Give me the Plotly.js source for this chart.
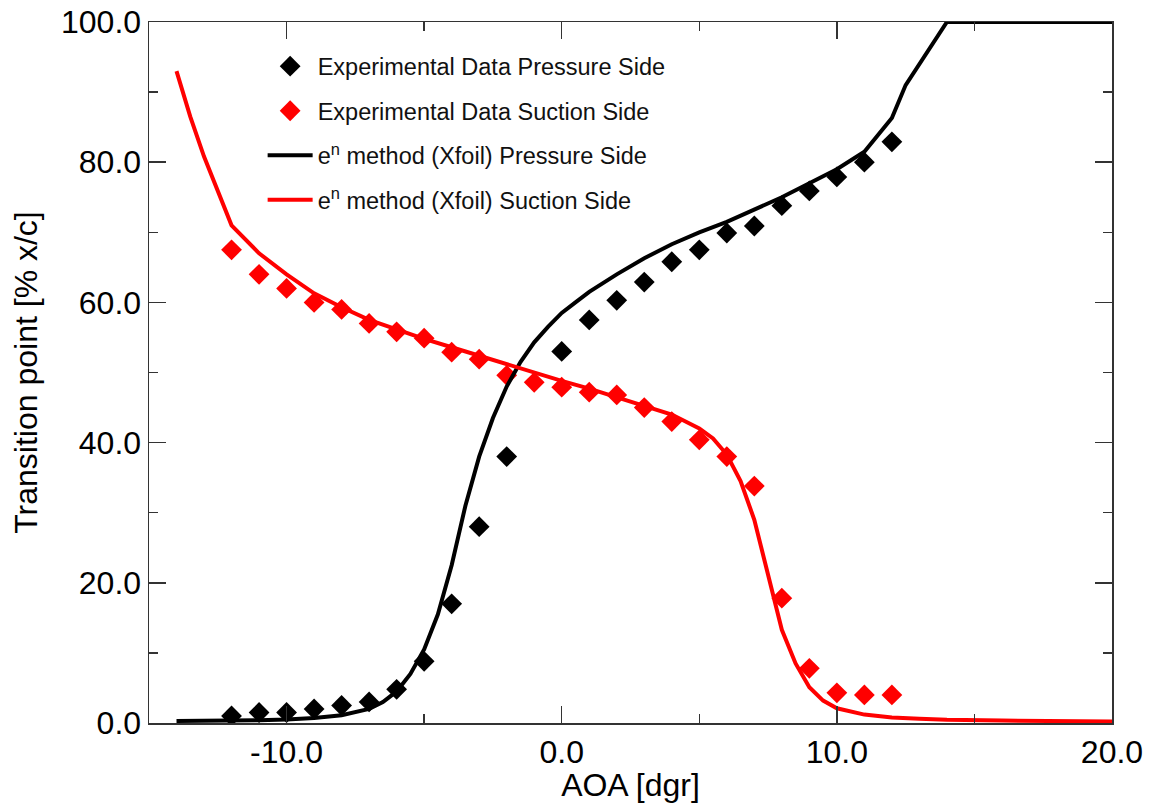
<!DOCTYPE html>
<html>
<head>
<meta charset="utf-8">
<script src="https://cdn.plot.ly/plotly-3.0.1.min.js"></script>
<style>html,body{margin:0;padding:0;background:#fff;}#chart{width:1156px;height:803px;}</style>
</head>
<body>
<div id="chart"></div>
<script>
// Experimental data (AOA in degrees, transition point in % x/c)
const expPressureAOA = [-12,-11,-10,-9,-8,-7,-6,-5,-4,-3,-2,0,1,2,3,4,5,6,7,8,9,10,11,12];
const expPressureX   = [1,1.5,1.5,2,2.5,3,4.8,8.8,17,28,38,53,57.5,60.3,62.9,65.8,67.5,69.9,70.9,73.8,75.9,77.9,80,82.9];

const expSuctionAOA = [-12,-11,-10,-9,-8,-7,-6,-5,-4,-3,-2,-1,0,1,2,3,4,5,6,7,8,9,10,11,12];
const expSuctionX   = [67.5,64,62,60,59,57,55.8,54.9,52.9,51.9,49.6,48.6,47.9,47.2,46.8,45,43,40.4,38,33.8,17.8,7.8,4.3,4,4];

// e^n method (Xfoil) results
const xfPressureAOA = [-14,-13,-12,-11,-10,-9,-8,-7,-6.5,-6,-5.5,-5,-4.5,-4,-3.5,-3,-2.5,-2,-1.5,-1,-0.5,0,0.5,1,2,3,4,5,6,7,8,9,10,11,12,12.5,13,14,15,16,17,18,19,20];
const xfPressureX   = [0.3,0.3,0.3,0.4,0.5,0.7,1.1,2,3,4.5,7,10.5,15.5,22.5,31,38,43.5,48,51.5,54.3,56.5,58.5,60,61.5,64,66.3,68.3,70,71.5,73.2,75,77,79,81.5,86.3,91,94,100,100,100,100,100,100,100];

const xfSuctionAOA = [-14,-13.5,-13,-12.5,-12,-11,-10,-9,-8,-7,-6,-5,-4,-3,-2,-1,0,1,2,3,4,5,5.5,6,6.5,7,7.5,8,8.5,9,9.5,10,11,12,13,14,16,18,20];
const xfSuctionX   = [93,86.5,80.8,75.8,71,67,64,61.3,59.3,57.5,56.1,54.8,53.6,52.4,51.1,49.9,48.8,47.7,46.5,45.3,44,42,40.6,38.3,34.5,29,21,13.3,8.5,5.1,3.2,2.1,1.2,0.8,0.6,0.45,0.35,0.25,0.2];

// Axis ticks
const xTickVals = [-10, 0, 10, 20];
const xTickText = ['-10.0', '0.0', '10.0', '20.0'];
const yTickVals = [0, 20, 40, 60, 80, 100];
const yTickText = ['0.0', '20.0', '40.0', '60.0', '80.0', '100.0'];

const FONT = '"Liberation Sans", Arial, Helvetica, sans-serif';

const traces = [
  {x: expPressureAOA, y: expPressureX, mode: 'markers', type: 'scatter',
   name: 'Experimental Data Pressure Side', legendgroup: 'g1',
   marker: {symbol: 'diamond', size: 16, color: '#000000'}},
  {x: expSuctionAOA, y: expSuctionX, mode: 'markers', type: 'scatter',
   name: 'Experimental Data Suction Side', legendgroup: 'g2',
   marker: {symbol: 'diamond', size: 16, color: '#ff0000'}},
  {x: xfPressureAOA, y: xfPressureX, mode: 'lines', type: 'scatter',
   name: 'e<sup>n</sup> method (Xfoil) Pressure Side', legendgroup: 'g3',
   line: {color: '#000000', width: 4}},
  {x: xfSuctionAOA, y: xfSuctionX, mode: 'lines', type: 'scatter',
   name: 'e<sup>n</sup> method (Xfoil) Suction Side', legendgroup: 'g4',
   line: {color: '#ff0000', width: 4}}
];

const axisCommon = {
  showgrid: false, zeroline: false, showline: true, linecolor: '#333333', linewidth: 1.5,
  mirror: 'ticks', ticks: 'inside', ticklen: 17, tickwidth: 1.5, tickcolor: '#333333',
  tickfont: {family: FONT, size: 32, color: '#000000'}
};

const layout = {
  width: 1156, height: 803,
  paper_bgcolor: '#ffffff', plot_bgcolor: '#ffffff',
  margin: {l: 149, r: 44, t: 22, b: 80},
  showlegend: true,
  legend: {
    x: 0.118, y: 0.968, xanchor: 'left', yanchor: 'top',
    bgcolor: 'rgba(0,0,0,0)', borderwidth: 0,
    font: {family: FONT, size: 23.5, color: '#111111'},
    itemwidth: 45, tracegroupgap: 11
  },
  xaxis: Object.assign({}, axisCommon, {
    range: [-15, 20], tickmode: 'array', tickvals: xTickVals, ticktext: xTickText,
    minor: {dtick: 5, tick0: -15, ticks: 'inside', ticklen: 9, tickwidth: 1.5, tickcolor: '#333333', showgrid: false},
    title: {text: 'AOA [dgr]', font: {family: FONT, size: 32, color: '#000000'}, standoff: 4}
  }),
  yaxis: Object.assign({}, axisCommon, {
    range: [0, 100], tickmode: 'array', tickvals: yTickVals, ticktext: yTickText,
    minor: {dtick: 10, tick0: 0, ticks: 'inside', ticklen: 9, tickwidth: 1.5, tickcolor: '#333333', showgrid: false},
    title: {text: 'Transition point [% x/c]', font: {family: FONT, size: 32, color: '#000000'}, standoff: 14}
  })
};

Plotly.newPlot('chart', traces, layout, {displayModeBar: false, staticPlot: true});
</script>
</body>
</html>
